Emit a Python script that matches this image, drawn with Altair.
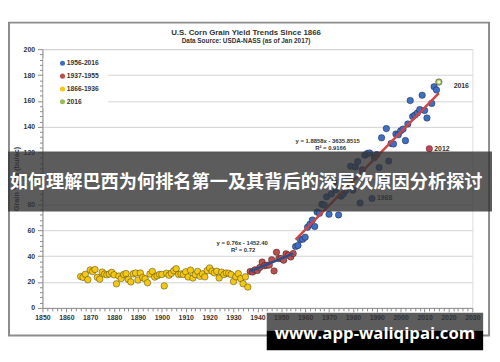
import altair as alt
import pandas as pd

# ---------------- data ----------------
early_years = list(range(1866, 1937))
early_yield = [24.3, 23.6, 26.0, 21.8, 29.3, 28.1, 29.7, 23.6, 22.2, 27.7,
               26.1, 25.6, 26.3, 27.5, 25.6, 18.6, 24.6, 22.7, 25.8, 26.5,
               22.0, 20.1, 26.3, 27.0, 21.6, 27.0, 23.5, 22.5, 19.4, 26.2,
               28.2, 23.8, 24.8, 25.9, 25.9, 17.0, 26.8, 25.3, 26.8, 28.8,
               30.3, 25.9, 26.2, 25.9, 27.9, 23.9, 29.2, 23.1, 25.8, 28.2,
               24.4, 26.3, 24.0, 28.9, 30.9, 28.4, 27.1, 28.3, 23.1, 27.6,
               25.8, 27.0, 26.7, 25.8, 20.4, 24.1, 26.5, 22.6, 18.7, 24.0, 16.1]
mid_years = list(range(1937, 1956))
mid_yield = [28.2, 27.7, 29.4, 28.9, 31.2, 35.4, 32.6, 33.0, 33.1, 37.2,
             28.6, 43.0, 38.2, 38.2, 36.9, 41.8, 40.7, 39.4, 42.0]
modern_years = [y for y in range(1956, 2016) if y != 2012]
modern_yield = [47.4, 48.3, 52.8, 53.1, 54.7, 62.4, 64.7, 67.9, 62.9, 74.1,
                73.1, 80.1, 79.5, 85.9, 72.4, 88.1, 97.0, 91.3, 71.9, 86.4,
                88.0, 90.8, 101.0, 109.5, 91.0, 108.9, 113.2, 81.1, 106.7, 118.0,
                119.4, 119.8, 84.6, 116.3, 118.5, 108.6, 131.5, 100.7, 138.6, 113.5,
                127.1, 126.7, 134.4, 133.8, 136.9, 138.2, 129.3, 142.2, 160.3, 147.9,
                149.1, 150.7, 153.3, 164.4, 152.6, 146.8, 158.1, 171.0, 168.4]
year_2016 = [2016]
yield_2016 = [174.6]
year_2012 = [2012]
yield_2012 = [123.1]

series_names = ["1956-2016", "1937-1955", "1866-1936", "2016"]
series_colors = ["#3f6fc2", "#b9504f", "#f3c814", "#9bbb59"]

trend_mid_years = [1937, 1955]
trend_mid_yield = [28.2, 41.9]
trend_modern_years = [1956, 2016]
trend_modern_yield = [52.8, 166.0]

label_years = [2012, 1988]
label_yield = [123.1, 84.6]
label_text = ["2012", "1988"]

x_ticks = list(range(1850, 2031, 2))
y_ticks = list(range(0, 201, 4))

title_text = "U.S. Corn Grain Yield Trends Since 1866"
subtitle_text = "Data Source: USDA-NASS (as of Jan 2017)"
band_text = "如何理解巴西为何排名第一及其背后的深层次原因分析探讨"
mark_text = "www.app-waliqipai.com"

# ---------------- tables ----------------
pts = pd.DataFrame({
    "year": early_years + mid_years + modern_years + year_2016,
    "yield": early_yield + mid_yield + modern_yield + yield_2016,
    "series": (["1866-1936"] * len(early_years) + ["1937-1955"] * len(mid_years)
               + ["1956-2016"] * len(modern_years) + ["2016"]),
})
p2012 = pd.DataFrame({"year": year_2012, "yield": yield_2012})
p2016 = pd.DataFrame({"year": year_2016, "yield": yield_2016})
t_mid = pd.DataFrame({"year": trend_mid_years, "yield": trend_mid_yield})
t_mod = pd.DataFrame({"year": trend_modern_years, "yield": trend_modern_yield})
lab = pd.DataFrame({"year": label_years, "yield": label_yield, "t": label_text})
lab16 = pd.DataFrame({"year": year_2016, "yield": yield_2016, "t": ["2016"]})
one = pd.DataFrame({"a": [0]})

F = "Liberation Sans"
xscale = alt.Scale(domain=[1850, 2030], nice=False, zero=False)
yscale = alt.Scale(domain=[0, 200], nice=False)

xaxis = alt.Axis(values=x_ticks, format="d",
                 labelExpr="datum.value % 10 === 0 ? datum.label : ''",
                 tickSize={"condition": {"test": "datum.value % 10 === 0", "value": 4}, "value": 3},
                 grid=False, domainColor="#8a8a8a", tickColor="#8a8a8a",
                 labelFont=F, labelFontSize=7, labelFontWeight="bold", labelColor="#333333",
                 labelPadding=2, labelOverlap=False, labelFlush=False, title=None)
yaxis = alt.Axis(values=y_ticks, format="d",
                 labelExpr="datum.value % 20 === 0 ? datum.label : ''",
                 tickSize={"condition": {"test": "datum.value % 20 === 0", "value": 5}, "value": 3},
                 grid=True,
                 gridOpacity={"condition": {"test": "datum.value % 20 === 0 && datum.value > 0", "value": 1}, "value": 0},
                 gridColor="#d2d2d2", gridWidth=1,
                 domainColor="#8a8a8a", tickColor="#8a8a8a",
                 labelFont=F, labelFontSize=7, labelFontWeight="bold", labelColor="#333333",
                 labelPadding=3, labelOverlap=False,
                 title="Grain Yield (bu/ac)", titleFont=F, titleFontSize=7.5,
                 titleFontWeight="bold", titleColor="#333333", titlePadding=3)

X = alt.X("year:Q", scale=xscale, axis=xaxis)
Y = alt.Y("yield:Q", scale=yscale, axis=yaxis)

frame = alt.Chart(one).mark_rect(filled=False, stroke="#8c8c8c", strokeWidth=2).encode(
    x=alt.value(-34), x2=alt.value(454), y=alt.value(-27), y2=alt.value(291))
legend_bg = alt.Chart(one).mark_rect(color="white").encode(
    x=alt.value(1), x2=alt.value(67), y=alt.value(9), y2=alt.value(60))

scatter = alt.Chart(pts).mark_circle(size=44, opacity=1, stroke="black",
                                     strokeOpacity=0.35, strokeWidth=1).encode(
    x=X, y=Y,
    color=alt.Color("series:N", scale=alt.Scale(domain=series_names, range=series_colors),
                    legend=alt.Legend(orient="none", legendX=11, legendY=5, title=None,
                                      fillColor="white", padding=6, rowPadding=5,
                                      symbolSize=26, symbolType="circle",
                                      symbolStrokeWidth=0,
                                      labelFont=F, labelFontSize=6.8, labelFontWeight="bold",
                                      labelColor="#333333", labelOffset=1)),
)
pt2012 = alt.Chart(p2012).mark_circle(size=44, opacity=1, color="#c4415c", stroke="black",
                                      strokeOpacity=0.3, strokeWidth=1).encode(x=X, y=Y)
cross2016 = alt.Chart(p2016).mark_point(shape="cross", angle=45, size=14, filled=True,
                                        color="white", opacity=0.9).encode(x=X, y=Y)

line_mid = alt.Chart(t_mid).mark_line(color="#2c4d8e", strokeWidth=2.5).encode(x=X, y=Y)
line_mod = alt.Chart(t_mod).mark_line(color="#cf4646", strokeWidth=2.5).encode(x=X, y=Y)

labs = alt.Chart(lab).mark_text(align="left", dx=5, font=F, fontSize=7, fontWeight="bold",
                                color="#333333").encode(x=X, y=Y, text="t:N")
labs16 = alt.Chart(lab16).mark_text(align="left", dx=15, dy=4, font=F, fontSize=7,
                                    fontWeight="bold", color="#333333").encode(x=X, y=Y, text="t:N")

def txt(s, x, y, size, color="#333333", font=F, weight="bold", align="center"):
    return alt.Chart(one).mark_text(text=s, font=font, fontSize=size, fontWeight=weight,
                                    color=color, align=align, baseline="middle").encode(
        x=alt.value(x), y=alt.value(y))

eq1 = txt("y = 1.8858x - 3635.8515", 290, 93, 6)
eq1r = txt("R² = 0.9166", 293, 100, 6)
eq2 = txt("y = 0.76x - 1452.40", 203, 197, 6)
eq2r = txt("R² = 0.72", 204, 204, 6)

t1 = txt(title_text, 207, -16.5, 8)
t2 = txt(subtitle_text, 207, -8.5, 6.5)

band = alt.Chart(one).mark_rect(color="#333333", opacity=0.8).encode(
    x=alt.value(-35), x2=alt.value(457), y=alt.value(104), y2=alt.value(165))
band_t = txt(band_text, 207, 135, 18.5, color="white", font="Noto Sans CJK SC")

wm1 = alt.Chart(one).mark_rect(color="#333333", opacity=0.8).encode(
    x=alt.value(228), x2=alt.value(448), y=alt.value(268), y2=alt.value(286))
wm2 = alt.Chart(one).mark_rect(color="#000000").encode(
    x=alt.value(228), x2=alt.value(448), y=alt.value(286), y2=alt.value(306))
wm_t = txt(mark_text, 338, 290, 17, color="white", font="Open Sans")

chart = alt.layer(
    frame, legend_bg, scatter, pt2012, cross2016, line_mid, line_mod, labs, labs16,
    eq1, eq1r, eq2, eq2r, t1, t2, band, band_t, wm1, wm2, wm_t
).properties(
    width=437, height=263,
    padding={"left": 35, "top": 39, "right": 20, "bottom": 44},
    autosize=alt.AutoSizeParams(type="none"),
).configure_view(stroke=None).configure(background="white")

chart.save("out.html", embed_options={"renderer": "svg", "actions": False})
